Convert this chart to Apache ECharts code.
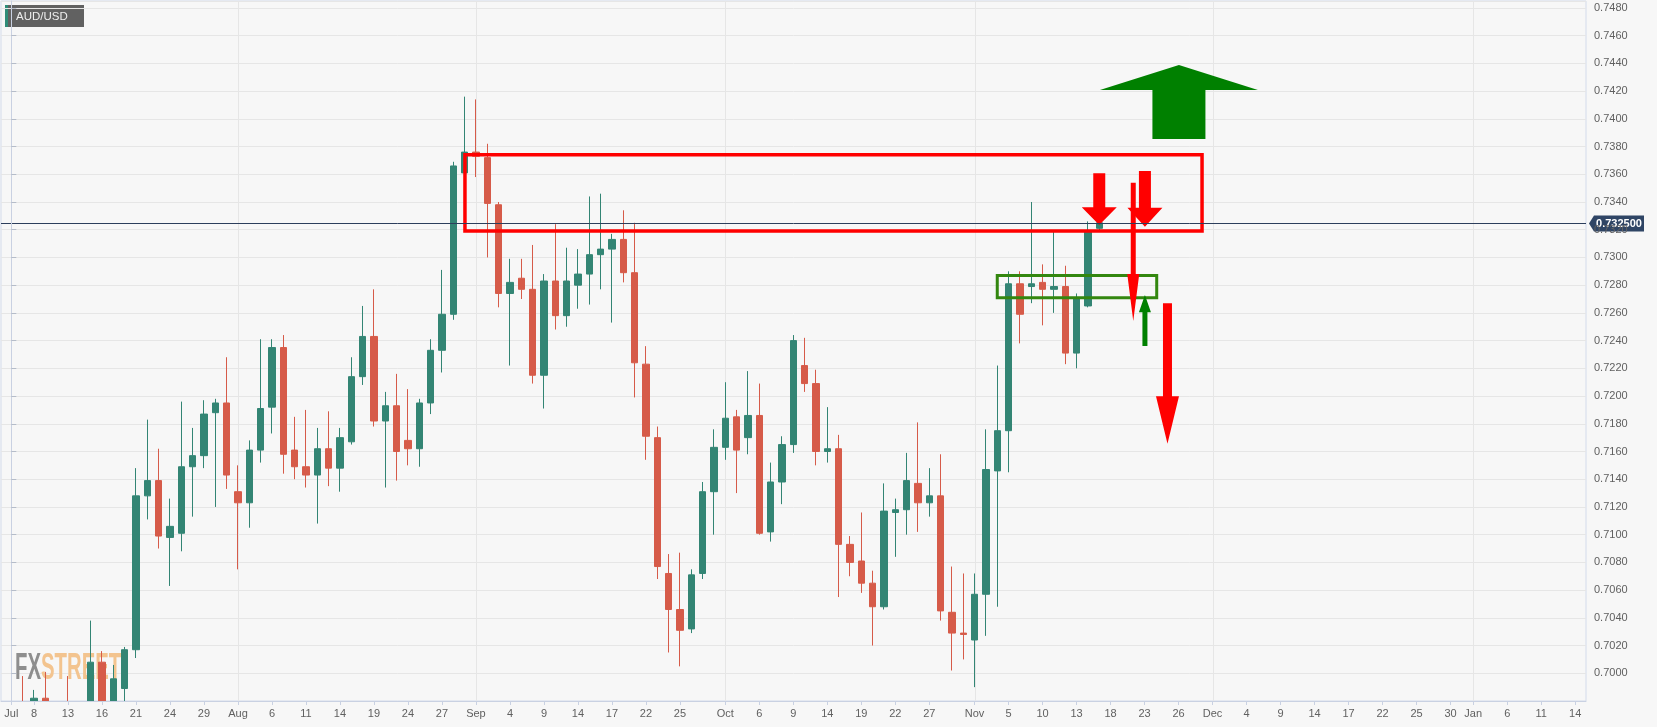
<!DOCTYPE html>
<html><head><meta charset="utf-8">
<script src="https://cdn.jsdelivr.net/npm/echarts@6/dist/echarts.min.js"></script>
<style>html,body{margin:0;padding:0;background:#f7f7f7}#c{width:1657px;height:727px}</style>
</head><body><div id="c"></div>
<script>
// ---- Data (AUD/USD daily, 2020-07-06 .. 2020-11-17) ----
const openP = [0.6942,0.6972,0.6955,0.6982,0.6962, 0.6965,0.6958,0.6972,0.7008,0.6975,
  0.6989,0.7017,0.7128,0.7139,0.7098, 0.7101,0.7149,0.7157,0.7188,0.7195,
  0.7131,0.7123,0.7161,0.7192,0.7235, 0.7161,0.7149,0.7143,0.7162,0.7148,
  0.7167,0.7214,0.7243,0.7182,0.7193, 0.7168,0.7162,0.7195,0.7233,0.7259,
  0.7361,0.7376,0.7372,0.7338,0.7274, 0.7285,0.7277,0.7215,0.7283,0.7258,
  0.7280,0.7288,0.7302,0.7306,0.7313, 0.7289,0.7223,0.7170,0.7072,0.7046,
  0.7032,0.7072,0.7131,0.7163,0.7185, 0.7170,0.7186,0.7102,0.7138,0.7165,
  0.7222,0.7209,0.7160,0.7162,0.7093, 0.7081,0.7065,0.7048,0.7116,0.7118,
  0.7137,0.7123,0.7128,0.7044,0.7029, 0.7024,0.7057,0.7146,0.7175,0.7281,
  0.7279,0.7282,0.7277,0.7279,0.7231, 0.7265,0.7321];
const highP = [0.6988,0.6998,0.6988,0.7001,0.6977, 0.6998,0.6978,0.7038,0.7016,0.7006,
  0.7019,0.7148,0.7183,0.7162,0.7126, 0.7196,0.7177,0.7197,0.7198,0.7228,
  0.7150,0.7168,0.7241,0.7241,0.7244, 0.7185,0.7190,0.7177,0.7189,0.7177,
  0.7228,0.7265,0.7277,0.7203,0.7216, 0.7205,0.7198,0.7241,0.7291,0.7369,
  0.7416,0.7414,0.7382,0.7340,0.7299, 0.7299,0.7309,0.7288,0.7324,0.7307,
  0.7306,0.7344,0.7346,0.7317,0.7334, 0.7325,0.7236,0.7178,0.7086,0.7087,
  0.7075,0.7138,0.7176,0.7210,0.7190, 0.7218,0.7209,0.7152,0.7171,0.7244,
  0.7242,0.7219,0.7192,0.7172,0.7099, 0.7116,0.7074,0.7137,0.7126,0.7159,
  0.7181,0.7148,0.7158,0.7077,0.7072, 0.7072,0.7176,0.7222,0.7290,0.7290,
  0.7340,0.7295,0.7319,0.7294,0.7274, 0.7326,0.7327];
const lowP = [0.6930,0.6945,0.6950,0.6955,0.6940, 0.6950,0.6930,0.6965,0.6963,0.6968,
  0.6976,0.7011,0.7111,0.7090,0.7063, 0.7088,0.7113,0.7148,0.7120,0.7133,
  0.7075,0.7105,0.7152,0.7173,0.7144, 0.7140,0.7134,0.7108,0.7135,0.7131,
  0.7165,0.7208,0.7178,0.7134,0.7139, 0.7150,0.7149,0.7187,0.7217,0.7255,
  0.7358,0.7358,0.7300,0.7264,0.7222, 0.7270,0.7209,0.7191,0.7248,0.7250,
  0.7263,0.7266,0.7277,0.7253,0.7282, 0.7199,0.7154,0.7068,0.7015,0.7005,
  0.7029,0.7068,0.7100,0.7154,0.7130, 0.7158,0.7100,0.7095,0.7122,0.7159,
  0.7203,0.7150,0.7152,0.7055,0.7070, 0.7058,0.7020,0.7046,0.7084,0.7100,
  0.7102,0.7113,0.7038,0.7002,0.7010, 0.6990,0.7027,0.7048,0.7145,0.7238,
  0.7267,0.7251,0.7260,0.7223,0.7220, 0.7264,0.7319];
const closeP = [0.6972,0.6955,0.6982,0.6962,0.6958, 0.6958,0.6972,0.7008,0.6975,0.6996,
  0.7017,0.7128,0.7139,0.7099,0.7106, 0.7149,0.7157,0.7187,0.7195,0.7143,
  0.7123,0.7161,0.7191,0.7235,0.7158, 0.7149,0.7143,0.7162,0.7148,0.7170,
  0.7214,0.7243,0.7182,0.7193,0.7160, 0.7162,0.7195,0.7233,0.7259,0.7366,
  0.7376,0.7373,0.7339,0.7274,0.7282, 0.7277,0.7215,0.7283,0.7258,0.7283,
  0.7288,0.7302,0.7306,0.7313,0.7289, 0.7224,0.7171,0.7077,0.7046,0.7031,
  0.7071,0.7131,0.7163,0.7184,0.7161, 0.7186,0.7101,0.7138,0.7165,0.7240,
  0.7209,0.7160,0.7162,0.7093,0.7080, 0.7065,0.7048,0.7117,0.7118,0.7139,
  0.7123,0.7128,0.7045,0.7029,0.7028, 0.7057,0.7147,0.7175,0.7281,0.7259,
  0.7281,0.7277,0.7279,0.7231,0.7271, 0.7319,0.7325];
const lastPrice = 0.7325;
const firstDay = '2020-07-06';
const lastAxisDay = '2021-01-15';

// x-axis tick labels
const xTickDates = ['2020-07-06','2020-07-08','2020-07-13','2020-07-16','2020-07-21','2020-07-24','2020-07-29',
  '2020-08-03','2020-08-06','2020-08-11','2020-08-14','2020-08-19','2020-08-24','2020-08-27',
  '2020-09-01','2020-09-04','2020-09-09','2020-09-14','2020-09-17','2020-09-22','2020-09-25',
  '2020-10-01','2020-10-06','2020-10-09','2020-10-14','2020-10-19','2020-10-22','2020-10-27',
  '2020-11-02','2020-11-05','2020-11-10','2020-11-13','2020-11-18','2020-11-23','2020-11-26',
  '2020-12-01','2020-12-04','2020-12-09','2020-12-14','2020-12-17','2020-12-22','2020-12-25','2020-12-30',
  '2021-01-01','2021-01-06','2021-01-11','2021-01-14'];
const xTickLabels = ['Jul','8','13','16','21','24','29',
  'Aug','6','11','14','19','24','27',
  'Sep','4','9','14','17','22','25',
  'Oct','6','9','14','19','22','27',
  'Nov','5','10','13','18','23','26',
  'Dec','4','9','14','17','22','25','30',
  'Jan','6','11','14'];
const monthStartDates = ['2020-08-03','2020-09-01','2020-10-01','2020-11-02','2020-12-01','2021-01-01'];

// annotations (x in trading-day slots, y in price)
const rectBoxes = [[40.03, 0.7374, 105.07, 0.7319], [87.0, 0.7287, 101.07, 0.7271]];
const arrowLines = [ // [x, tail, headBase, tip]
  [96.0, 0.73607, 0.73362, 0.73234],
  [100.03, 0.73624, 0.73359, 0.73222],
  [99.0, 0.73539, 0.72880, 0.72541],
  [100.03, 0.72361, 0.72604, 0.72729],
  [102.02, 0.72669, 0.71998, 0.71656],
  [103.03, 0.73854, 0.74208, 0.74388]];

// ---- styles ----
const rectStyles = [{stroke:'#ff0000', lineWidth:3.5}, {stroke:'#33870f', lineWidth:3}];
const arrowStyles = [
  {fill:'#ff0000', shaft:12, head:35},
  {fill:'#ff0000', shaft:12, head:35},
  {fill:'#ff0000', shaft:5, head:12},
  {fill:'#008000', shaft:5, head:12},
  {fill:'#ff0000', shaft:9, head:23},
  {fill:'#008000', shaft:53, head:158}];
const FONT = '"Liberation Sans", Arial, sans-serif';
const Y_MIN = 0.698, Y_MAX = 0.7485, Y_STEP = 0.002;

function tradingDays(from, to) {
  const out = []; let d = new Date(from + 'T00:00:00Z'); const e = new Date(to + 'T00:00:00Z');
  while (d <= e) { const w = d.getUTCDay(); if (w !== 0 && w !== 6) out.push(d.toISOString().slice(0, 10)); d = new Date(d.getTime() + 86400000); }
  return out;
}
const days = tradingDays(firstDay, lastAxisDay);
const slotOf = d => days.indexOf(d);

const candles = openP.map((o, i) => [i, o, closeP[i], lowP[i], highP[i]]);
const tickPos = xTickDates.map(slotOf);
const labelMap = {}; tickPos.forEach((p, i) => { labelMap[String(p)] = xTickLabels[i]; });
const monthLines = monthStartDates.map(d => [slotOf(d), 0.72]);

const chart = echarts.init(document.getElementById('c'), null, {renderer: 'canvas'});
chart.setOption({
  animation: false,
  backgroundColor: '#f7f7f7',
  textStyle: {fontFamily: FONT},
  grid: {left: 1, top: 1, width: 1585, height: 700, show: true, borderColor: '#d3dbeb', borderWidth: 1, backgroundColor: 'transparent'},
  xAxis: {
    type: 'value', min: -0.909, max: 138.95, z: 10,
    axisLine: {show: true, lineStyle: {color: '#c9d1e2'}},
    splitLine: {show: false},
    axisTick: {show: true, customValues: tickPos, length: 4, lineStyle: {color: '#c9d1e2'}},
    axisLabel: {customValues: tickPos, formatter: v => labelMap[String(Math.round(v))] || '', color: '#606060', fontSize: 11, margin: 7, fontFamily: FONT}
  },
  yAxis: [{
    type: 'value', position: 'right', min: Y_MIN, max: Y_MAX, interval: Y_STEP, z: 10,
    axisLine: {show: true, lineStyle: {color: '#c9d1e2'}},
    axisTick: {show: true, length: 5, lineStyle: {color: '#b5bcc9'}},
    axisLabel: {margin: 8, color: '#606060', fontSize: 11, fontFamily: FONT, formatter: v => v.toFixed(4), showMinLabel: false, showMaxLabel: false},
    splitLine: {show: false}
  }, {
    type: 'value', position: 'right', min: Y_MIN, max: Y_MAX, interval: Y_STEP, z: 0,
    axisLine: {show: false}, axisTick: {show: false}, axisLabel: {show: false},
    splitLine: {show: true, lineStyle: {color: '#e6e6e6'}}
  }],
  graphic: [
    {type: 'rect', z: 8, silent: true, shape: {x: 0, y: 702, width: 1657, height: 30}, style: {fill: '#f7f7f7'}},
    {type: 'text', x: 15, y: 669, scaleX: 0.55, z: 1, silent: true,
     style: {text: '{a|FX}{b|STREET}', verticalAlign: 'middle', align: 'left',
       rich: {a: {fill: '#8e8e8e', fontSize: 37, fontWeight: 'bold', fontFamily: FONT},
              b: {fill: '#f3c48f', fontSize: 37, fontWeight: 'bold', fontFamily: FONT}}}},
    {type: 'group', z: 100, silent: true, children: [
      {type: 'rect', shape: {x: 5, y: 5, width: 79, height: 22}, style: {fill: '#616161'}},
      {type: 'rect', shape: {x: 5, y: 5, width: 3, height: 22}, style: {fill: '#2f8c78'}},
      {type: 'text', x: 16, y: 16.5, style: {text: 'AUD/USD', fill: '#eeeeee', font: '11.5px ' + FONT, verticalAlign: 'middle'}}
    ]}
  ],
  series: [
    {type: 'custom', name: 'months', z: 1, silent: true, clip: false, data: monthLines,
     renderItem: (params, api) => {
       const cs = params.coordSys; const x = Math.round(api.coord([api.value(0), 0.72])[0]) + 0.5;
       return {type: 'line', shape: {x1: x, y1: cs.y, x2: x, y2: cs.y + cs.height}, style: {stroke: '#e6e6e6', lineWidth: 1}};
     }},
    {type: 'candlestick', name: 'AUD/USD', z: 3, data: candles, encode: {x: 0, y: [1, 2, 3, 4]}, barWidth: 7,
     itemStyle: {color: '#338574', color0: '#d65b49', borderColor: '#338574', borderColor0: '#d65b49', borderWidth: 1}},
    {type: 'custom', name: 'boxes', z: 5, silent: true, clip: false, data: rectBoxes,
     renderItem: (params, api) => {
       const p1 = api.coord([api.value(0), api.value(1)]); const p2 = api.coord([api.value(2), api.value(3)]);
       const s = rectStyles[params.dataIndex];
       return {type: 'rect', shape: {x: p1[0], y: p1[1], width: p2[0] - p1[0], height: p2[1] - p1[1]},
               style: {fill: 'none', stroke: s.stroke, lineWidth: s.lineWidth}};
     }},
    {type: 'custom', name: 'arrows', z: 6, silent: true, clip: false, data: arrowLines,
     renderItem: (params, api) => {
       const s = arrowStyles[params.dataIndex];
       const t = api.coord([api.value(0), api.value(1)]);
       const cx = t[0], yt = t[1];
       const yh = api.coord([api.value(0), api.value(2)])[1];
       const yp = api.coord([api.value(0), api.value(3)])[1];
       const a = s.shaft / 2, h = s.head / 2;
       return {type: 'polygon', shape: {points: [[cx - a, yt], [cx - a, yh], [cx - h, yh], [cx, yp], [cx + h, yh], [cx + a, yh], [cx + a, yt]]},
               style: {fill: s.fill}};
     }},
    {type: 'custom', name: 'price', z: 7, silent: true, clip: false, data: [[0, lastPrice]],
     renderItem: (params, api) => {
       const cs = params.coordSys;
       const y = Math.round(api.coord([api.value(0), api.value(1)])[1]) + 0.5;
       const xr = cs.x + cs.width;
       return {type: 'group', children: [
         {type: 'line', shape: {x1: cs.x, y1: y, x2: xr, y2: y}, style: {stroke: '#2c3e5c', lineWidth: 1}},
         {type: 'polygon', shape: {points: [[xr + 3, y], [xr + 8, y - 8], [xr + 58, y - 8], [xr + 58, y + 8], [xr + 8, y + 8]]}, style: {fill: '#2f4565'}},
         {type: 'text', x: xr + 33, y: y + 0.5, style: {text: lastPrice.toFixed(6), fill: '#ffffff', font: 'bold 11px ' + FONT, align: 'center', verticalAlign: 'middle'}}
       ]};
     }}
  ]
});
</script>
</body></html>
